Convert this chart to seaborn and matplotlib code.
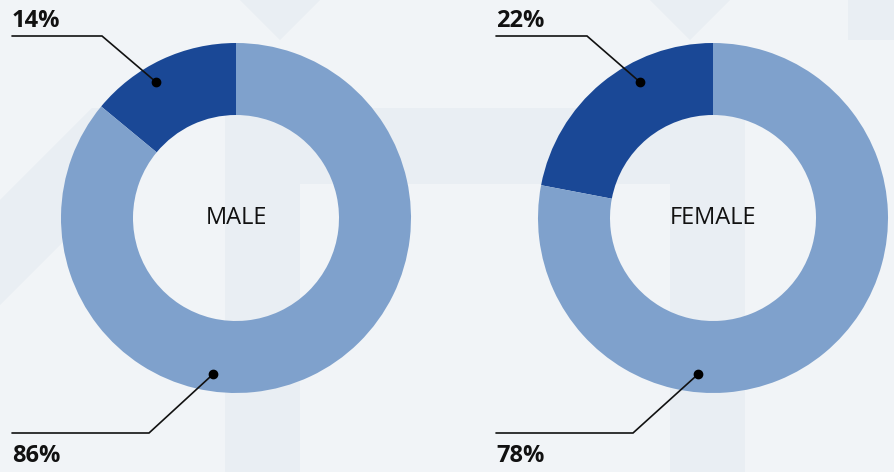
import numpy as np
import matplotlib
matplotlib.use("Agg")
import matplotlib.pyplot as plt
import matplotlib.patches as mpatches
import seaborn as sns

# data
groups = ["MALE", "FEMALE"]
share_dark = [14, 22]
share_light = [86, 78]
labels_dark = ["14%", "22%"]
labels_light = ["86%", "78%"]

DARK = "#1a4896"
LIGHT = "#7fa1cc"
BG = "#f1f4f7"
BG2 = "#e9eef3"

sns.set_theme(style="white")
plt.rcParams["font.family"] = ["Open Sans", "DejaVu Sans"]

W, H = 895, 472
fig = plt.figure(figsize=(W / 100, H / 100), dpi=100)
fig.patch.set_facecolor(BG)
ax = fig.add_axes([0, 0, 1, 1])
ax.set_facecolor(BG)
ax.set_xlim(0, W)
ax.set_ylim(0, H)
ax.set_aspect("equal")
ax.axis("off")


def Y(py):
    return H - py


# faint background shapes
ax.add_patch(mpatches.Rectangle((225, 0), 520, Y(108), color=BG2, lw=0, zorder=0))
ax.add_patch(mpatches.Rectangle((300, 0), 370, Y(184), color=BG, lw=0, zorder=0))
ax.add_patch(mpatches.Polygon([(240, Y(0)), (320, Y(0)), (280, Y(40))], color=BG2, lw=0, zorder=0))
ax.add_patch(mpatches.Polygon([(650, Y(0)), (730, Y(0)), (690, Y(40))], color=BG2, lw=0, zorder=0))
ax.add_patch(mpatches.Rectangle((848, Y(40)), 47, 40, color=BG2, lw=0, zorder=0))
ax.add_patch(mpatches.Polygon([(0, Y(200)), (92, Y(108)), (197, Y(108)), (0, Y(305))],
                              color=BG2, lw=0, zorder=0))

centers = [(236, 218), (713, 218)]
R_OUT = 175
WIDTH = 72
# annotation layout: dot offsets (angle deg, radius), elbow x, text x
ann_top = [(120.5, 158, 102, 12), (118.2, 154, 587, 496)]
ann_bot = [(261.6, 158, 149, 12), (264.5, 157, 633, 496)]
y_top_line, y_bot_line = 36, 433

for i, g in enumerate(groups):
    cx, cy = centers[i]
    ax.pie([share_dark[i], share_light[i]], colors=[DARK, LIGHT],
           startangle=90, counterclock=True, center=(cx, Y(cy)),
           radius=R_OUT, wedgeprops=dict(width=WIDTH, linewidth=0),
           frame=True)
    ax.text(cx, Y(cy), g, ha="center", va="center", fontsize=17, color="#111111")

    for (ang, r, ex, tx), lab, ly, ty in [
        (ann_top[i], labels_dark[i], y_top_line, 27),
        (ann_bot[i], labels_light[i], y_bot_line, 462),
    ]:
        dx = cx + r * np.cos(np.radians(ang))
        dy = Y(cy) + r * np.sin(np.radians(ang))
        ax.plot([dx, ex, tx], [dy, Y(ly), Y(ly)], color="#111111", lw=1.2,
                solid_joinstyle="miter", zorder=5)
        ax.plot(dx, dy, "o", color="#000000", ms=6, zorder=6)
        ax.text(tx, Y(ty), lab, ha="left", va="baseline", fontsize=17,
                fontweight="bold", color="#111111")

ax.set_xlim(0, W)
ax.set_ylim(0, H)
ax.axis("off")
fig.savefig("out.png", dpi=100, facecolor=BG)
